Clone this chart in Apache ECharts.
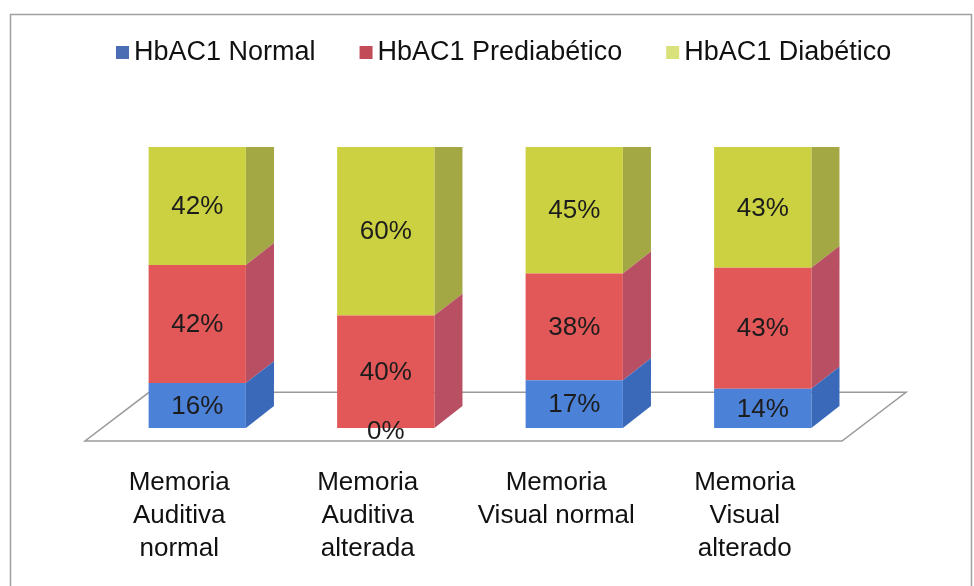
<!DOCTYPE html>
<html>
<head>
<meta charset="utf-8">
<script src="https://cdn.jsdelivr.net/npm/echarts@6/dist/echarts.min.js"></script>
<style>
  html, body { margin: 0; padding: 0; background: #ffffff; }
  #chart { width: 974px; height: 586px; }
</style>
</head>
<body>
<div id="chart"></div>
<script>
// Categories and stacked percentages per HbA1c group
const categories = [
  'Memoria\nAuditiva\nnormal',
  'Memoria\nAuditiva\nalterada',
  'Memoria\nVisual normal',
  'Memoria\nVisual\nalterado'
];
const seriesNames = ['HbAC1 Normal', 'HbAC1 Prediabético', 'HbAC1 Diabético'];
const hbNormal = [16, 0, 17, 14];
const hbPrediabetico = [42, 40, 38, 43];
const hbDiabetico = [42, 60, 45, 43];

const seriesValues = [hbNormal, hbPrediabetico, hbDiabetico];

// Face colours of the 3-D blocks (front, side) and legend swatches
const faceColors = [
  { front: '#4b81d6', side: '#3b69b9', legend: '#4a6db4' },
  { front: '#e25757', side: '#b84f62', legend: '#c24d58' },
  { front: '#cbd140', side: '#a4a844', legend: '#d9e27a' }
];

const FONT = '"Liberation Sans", Arial, sans-serif';
const BAR_RATIO = 0.516;   // front face width relative to the category band
const DEPTH_RATIO = 0.149; // horizontal depth offset relative to the band
const DEPTH_SLOPE = 0.78;  // vertical rise per horizontal depth pixel

// Build [categoryIndex, base, top, value] tuples so each series sits on the previous one
function stackedData(k) {
  return categories.map((_, i) => {
    let base = 0;
    for (let j = 0; j < k; j++) base += seriesValues[j][i];
    const v = seriesValues[k][i];
    return [i, base, base + v, v];
  });
}

function blockRenderer(k) {
  const col = faceColors[k];
  const isTop = k === seriesValues.length - 1;
  return function (params, api) {
    const i = api.value(0);
    const base = api.value(1);
    const top = api.value(2);
    const v = api.value(3);
    const band = api.size([1, 0])[0];
    const w = band * BAR_RATIO;
    const dx = band * DEPTH_RATIO;
    const dy = -dx * DEPTH_SLOPE;
    const b = api.coord([i, base]);
    const t = api.coord([i, top]);
    const xl = b[0] - w / 2, xr = b[0] + w / 2;
    const y0 = b[1], y1 = t[1];
    // the uppermost block is cut flat at the plot ceiling
    const yTopSide = isTop ? y1 : y1 + dy;
    const children = [];
    if (y0 - y1 > 0.01) {
      children.push({
        type: 'polygon',
        shape: { points: [[xr, y0], [xr + dx, y0 + dy], [xr + dx, yTopSide], [xr, y1]] },
        style: { fill: col.side }
      });
      children.push({
        type: 'rect',
        shape: { x: xl, y: y1, width: w, height: y0 - y1 },
        style: { fill: col.front }
      });
    }
    children.push({
      type: 'text',
      x: b[0],
      y: (y0 + y1) / 2 + (y0 - y1 < 1 ? 4 : 1),
      z2: 10,
      style: {
        text: v + '%',
        fill: '#1c1c1c',
        font: '26px ' + FONT,
        align: 'center',
        verticalAlign: 'middle'
      }
    });
    return { type: 'group', children: children };
  };
}

// Floor plane under the blocks, derived from the grid rectangle
function floorRenderer(params, api) {
  const cs = params.coordSys;
  const band = cs.width / categories.length;
  const dx = band * DEPTH_RATIO * 2.28;
  const dy = -dx * 0.76;
  const front = cs.y + cs.height + 13;
  const fl = cs.x - 18;
  const fr = cs.x + cs.width - 15;
  return {
    type: 'polygon',
    shape: { points: [[fl, front], [fr, front], [fr + dx, front + dy], [fl + dx, front + dy]] },
    style: { fill: '#ffffff', stroke: '#9a9a9a', lineWidth: 1.5 }
  };
}

const chart = echarts.init(document.getElementById('chart'), null, { renderer: 'canvas' });

const series = [{
  name: 'floor',
  type: 'custom',
  renderItem: floorRenderer,
  data: [[0]],
  z: 1,
  silent: true,
  clip: false
}];
// Drawn top series first so lower-segment labels stay on top
for (let k = seriesValues.length - 1; k >= 0; k--) {
  series.push({
    name: seriesNames[k],
    type: 'custom',
    renderItem: blockRenderer(k),
    data: stackedData(k),
    itemStyle: { color: faceColors[k].legend },
    encode: { x: 0, y: [1, 2] },
    z: 2,
    clip: false
  });
}

chart.setOption({
  animation: false,
  backgroundColor: '#ffffff',
  graphic: [{
    type: 'rect',
    left: 8,
    top: 12,
    shape: { width: 961, height: 600 },
    style: { fill: 'none', stroke: '#a0a0a0', lineWidth: 1.5 },
    silent: true
  }],
  legend: {
    left: 111,
    top: 34,
    itemWidth: 13,
    itemHeight: 13,
    itemGap: 44,
    icon: 'rect',
    textStyle: { fontSize: 27, fontFamily: FONT, color: '#111111' },
    data: seriesNames.map((n, k) => ({ name: n, itemStyle: { color: faceColors[k].legend } }))
  },
  grid: { left: 103, right: 117, top: 147, bottom: 158 },
  xAxis: {
    type: 'category',
    data: categories,
    axisLine: { show: false },
    axisTick: { show: false },
    splitLine: { show: false },
    axisLabel: {
      interval: 0,
      fontSize: 26,
      lineHeight: 33,
      fontFamily: FONT,
      color: '#111111',
      margin: 38,
      padding: [0, 36, 0, 0]
    }
  },
  yAxis: {
    type: 'value',
    min: 0,
    max: 100,
    show: false
  },
  series: series
});
</script>
</body>
</html>
